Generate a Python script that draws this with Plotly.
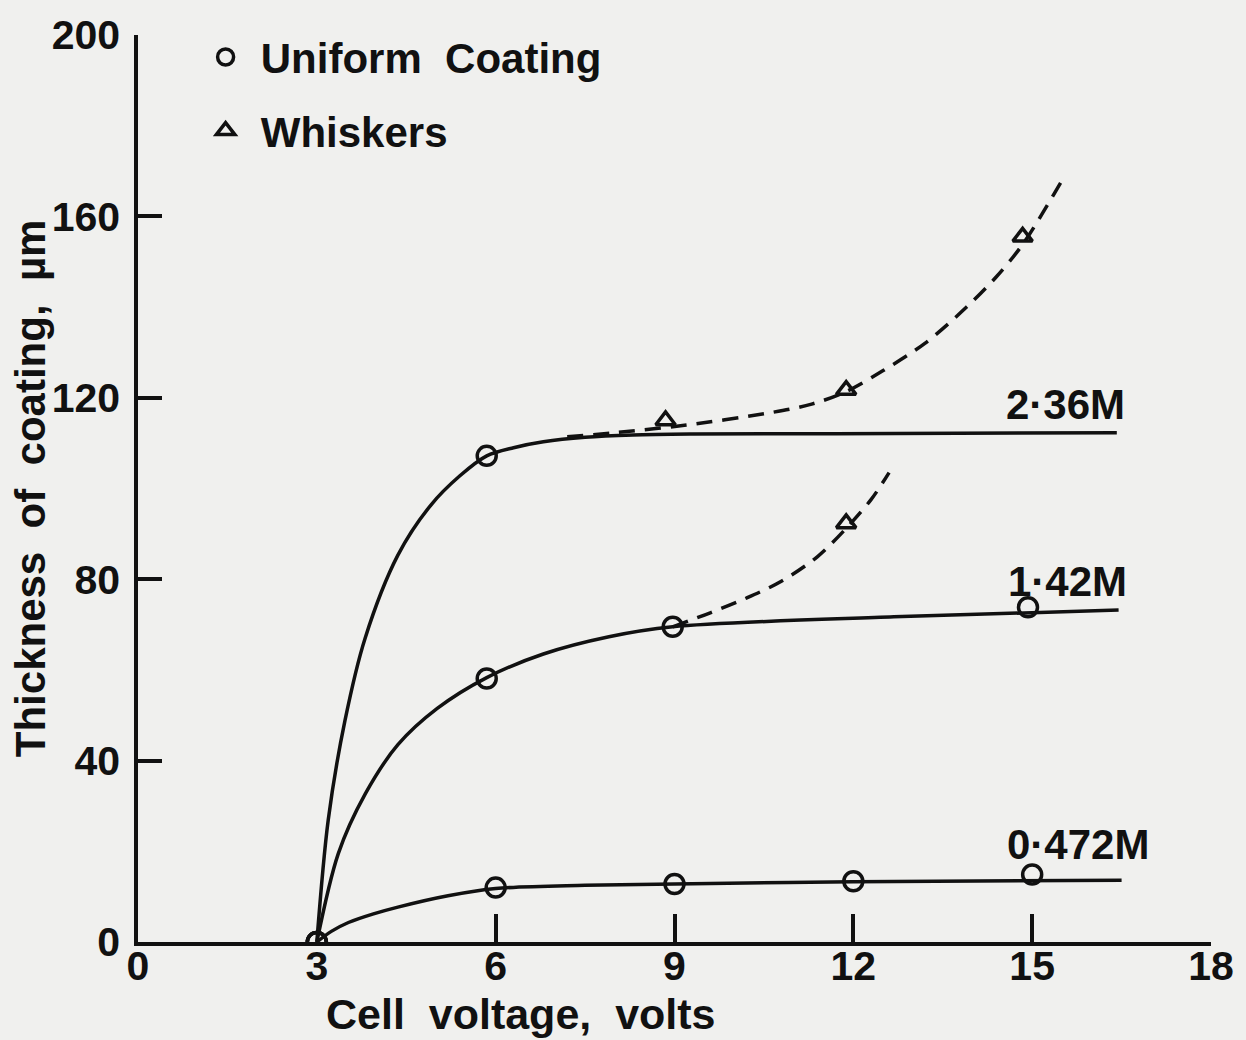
import plotly.graph_objects as go

# ---- data (cell voltage in volts, thickness in um) ----
# measured points, uniform coating (circles)
v_236 = [3, 5.85]
t_236 = [0, 107.2]
v_142 = [3, 5.85, 8.97, 14.93]
t_142 = [0, 58.1, 69.5, 73.8]
v_047 = [3, 6, 9, 12, 15]
t_047 = [0, 12.0, 12.8, 13.4, 14.9]

# whisker points (triangles)
v_whisk = [8.85, 11.88, 14.84, 11.88]
t_whisk = [115.0, 121.7, 155.5, 92.3]

# hand drawn solid curves, read at several voltages
curve_v_236 = [3, 3.19, 3.47, 3.81, 4.36, 4.91, 5.4, 5.85, 6.3, 6.8, 7.5, 8.3, 9.3, 11.7, 16.42]
curve_t_236 = [0, 26.8, 48.7, 67, 85.3, 96.3, 102.8, 107.2, 109.0, 110.3, 111.3, 111.8, 112.0, 112.1, 112.3]
curve_v_142 = [3, 3.36, 3.81, 4.36, 5.02, 5.85, 6.8, 7.9, 8.97, 12.68, 16.45]
curve_t_142 = [0, 19.5, 32.6, 43.5, 51.5, 58.3, 63.5, 67.3, 69.5, 71.7, 73.2]
curve_v_047 = [3, 3.25, 3.53, 3.95, 4.36, 5.2, 6, 7.5, 9, 12, 16.5]
curve_t_047 = [0, 2.4, 4.3, 6.2, 7.7, 10.2, 11.8, 12.5, 12.8, 13.3, 13.6]

# dashed whisker curves
dash_v_236 = [7.2, 8.0, 9.2, 10.6, 11.3, 11.9, 12.5, 13.2, 13.9, 14.4, 14.85, 15.56]
dash_t_236 = [111.4, 112.3, 114, 116.7, 118.6, 121.5, 126, 132, 140, 146.7, 154, 169.3]
dash_v_142 = [8.97, 9.6, 10.2, 10.8, 11.4, 11.9, 12.3, 12.6]
dash_t_142 = [69.5, 72.6, 75.8, 79.6, 85.0, 91.5, 97.6, 103.5]

# curve labels
label_text = ['2\u00b736M', '1\u00b742M', '0\u00b7472M']
label_v = [15.56, 15.59, 15.77]
label_t = [118.6, 79.6, 21.5]

x_ticks = [0, 3, 6, 9, 12, 15, 18]
x_tick_marks = [6, 9, 12, 15, 18]
y_ticks = [0, 40, 80, 120, 160, 200]

FONT = 'Liberation Sans'
INK = '#111111'
BG = '#f0f0ee'

fig = go.Figure()

for cv, ct in [(curve_v_236, curve_t_236), (curve_v_142, curve_t_142), (curve_v_047, curve_t_047)]:
    fig.add_trace(go.Scatter(x=cv, y=ct, mode='lines', showlegend=False, hoverinfo='skip',
                             line=dict(color=INK, width=3.5, shape='spline', smoothing=0.9)))

for dv, dt in [(dash_v_236, dash_t_236), (dash_v_142, dash_t_142)]:
    fig.add_trace(go.Scatter(x=dv, y=dt, mode='lines', showlegend=False, hoverinfo='skip',
                             line=dict(color=INK, width=3.5, dash='16px,10px', shape='spline', smoothing=0.9)))

circle = dict(symbol='circle-open', size=19, color=INK, line=dict(width=3.5, color=INK))
first = True
for v, t in [(v_236, t_236), (v_142, t_142), (v_047, t_047)]:
    fig.add_trace(go.Scatter(x=v, y=t, mode='markers', marker=circle,
                             name='\u00a0\u200aUniform\u00a0\u00a0Coating', legendgroup='uc',
                             showlegend=first))
    first = False

fig.add_trace(go.Scatter(x=v_whisk, y=t_whisk, mode='markers', name='\u00a0\u200aWhiskers', legendgroup='wh',
                         marker=dict(symbol='triangle-up-open', size=17, color=INK,
                                     line=dict(width=3.5, color=INK))))

# invisible trace so the secondary axis (tick marks only) gets drawn
fig.add_trace(go.Scatter(x=[0], y=[0], xaxis='x2', mode='markers', showlegend=False,
                         hoverinfo='skip', marker=dict(opacity=0)))

for txt, lv, lt in zip(label_text, label_v, label_t):
    fig.add_annotation(x=lv, y=lt, text=txt, showarrow=False,
                       font=dict(family=FONT, size=42, color=INK, weight='bold'))

fig.add_annotation(x=0.357, y=-0.079, xref='paper', yref='paper', xanchor='center', yanchor='middle',
                   text='Cell\u00a0\u00a0voltage,\u00a0\u00a0volts', showarrow=False,
                   font=dict(family=FONT, size=43, color=INK, weight='bold'))
fig.add_annotation(x=-0.10, y=0.5, xref='paper', yref='paper', xanchor='center', yanchor='middle',
                   textangle=-90,
                   text='Thickness\u00a0\u00a0of\u00a0\u00a0coating,\u00a0\u00a0\u00b5m', showarrow=False,
                   font=dict(family=FONT, size=42, color=INK, weight='bold'))

tickfont = dict(family=FONT, size=41, color=INK, weight='bold')

fig.update_layout(
    width=1246,
    height=1040,
    margin=dict(l=138, r=25, t=25, b=98),
    paper_bgcolor=BG,
    plot_bgcolor=BG,
    xaxis=dict(range=[0, 18], tickvals=x_ticks, ticks='', showgrid=False, zeroline=False,
               showline=True, linecolor=INK, linewidth=3.5, tickfont=tickfont,
               ticklabelstandoff=-15),
    xaxis2=dict(range=[0, 18], overlaying='x', side='bottom', tickvals=x_tick_marks,
                ticks='inside', ticklen=28, tickwidth=3.5, tickcolor=INK,
                showticklabels=False, showgrid=False, zeroline=False, showline=False),
    yaxis=dict(range=[0, 200], tickvals=y_ticks, ticks='inside', ticklen=24, tickwidth=3.5,
               tickcolor=INK, showgrid=False, zeroline=False, showline=True,
               linecolor=INK, linewidth=3.5, tickfont=tickfont, ticklabelstandoff=6),
    legend=dict(x=0.063, y=1.013, xanchor='left', yanchor='top', bgcolor='rgba(0,0,0,0)',
                traceorder='grouped', tracegroupgap=16,
                font=dict(family=FONT, size=42, color=INK, weight='bold')),
)

fig.write_html("out.html", config={'displayModeBar': False},
               post_script="document.body.style.margin='0';")
